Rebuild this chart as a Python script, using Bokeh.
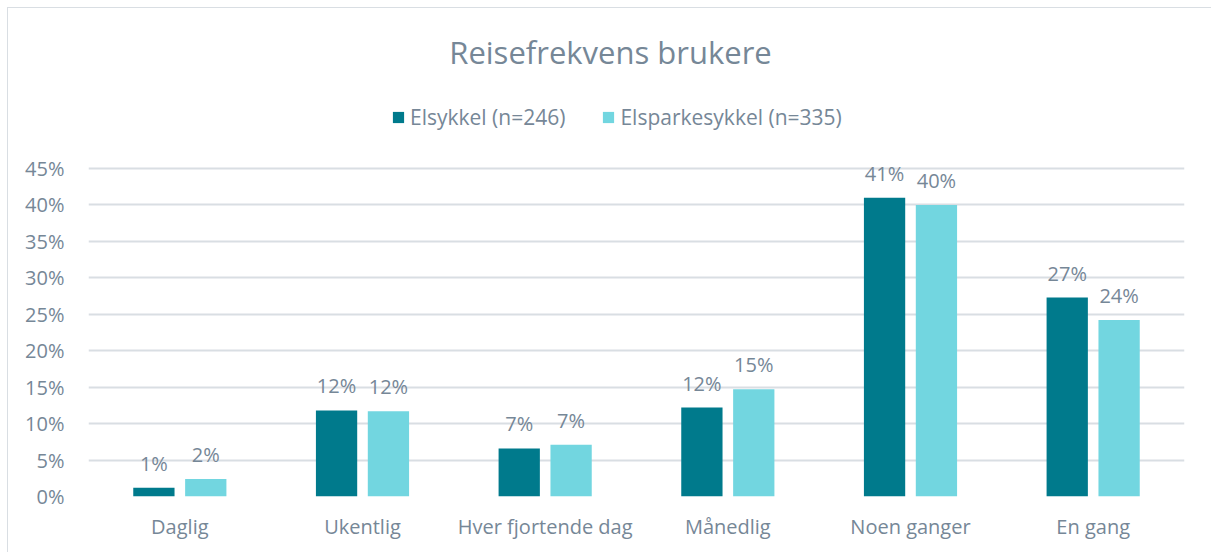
from bokeh.plotting import figure
from bokeh.models import (ColumnDataSource, FactorRange, LabelSet, Label, Range1d, Legend,
                          LegendItem, FixedTicker, PrintfTickFormatter)
from bokeh.core.properties import value
from bokeh.transform import dodge
from bokeh.embed import file_html
from bokeh.resources import INLINE

categories = ["Daglig", "Ukentlig", "Hver fjortende dag", "Månedlig", "Noen ganger", "En gang"]
elsykkel = [1.2, 11.8, 6.6, 12.2, 41.0, 27.3]
elsparkesykkel = [2.4, 11.7, 7.1, 14.7, 40.0, 24.2]
series_names = ["Elsykkel (n=246)", "Elsparkesykkel (n=335)"]
title_text = "Reisefrekvens brukere"
y_ticks = [0, 5, 10, 15, 20, 25, 30, 35, 40, 45]

C1 = "#007A8C"
C2 = "#72D6E0"
TXT = "#768797"
GRID = "#D9DEE3"
FONT = "Open Sans"

W, H = 1204, 545
FRAME_BOTTOM = 488          # px from figure top
AXIS_TOP_PX = 160           # px from figure top where 45% sits
Y_TOP = 45 * FRAME_BOTTOM / (FRAME_BOTTOM - AXIS_TOP_PX)   # frame extends up to hold title/legend

src = ColumnDataSource(dict(
    cat=categories,
    a=elsykkel,
    b=elsparkesykkel,
    la=[f"{round(v)}%" for v in elsykkel],
    lb=[f"{round(v)}%" for v in elsparkesykkel],
))

p = figure(x_range=FactorRange(*categories, range_padding=0), y_range=Range1d(0, Y_TOP),
           width=W, height=H, output_backend="svg", toolbar_location=None, title=None,
           min_border_left=80, min_border_right=W - 1176, min_border_top=0,
           min_border_bottom=H - FRAME_BOTTOM)

r1 = p.vbar(x=dodge("cat", -0.142, range=p.x_range), top="a", width=0.226, source=src,
            fill_color=C1, line_color=None)
r2 = p.vbar(x=dodge("cat", 0.142, range=p.x_range), top="b", width=0.226, source=src,
            fill_color=C2, line_color=None)

for col, y, off in (("la", "a", -0.142), ("lb", "b", 0.142)):
    p.add_layout(LabelSet(x=dodge("cat", off, range=p.x_range), y=y, text=col, source=src,
                          text_align="center", text_baseline="alphabetic", y_offset=17,
                          text_font=value(FONT), text_font_size="20px", text_color=TXT))

p.add_layout(Label(x=522, y=445, x_units="screen", y_units="screen", text=title_text,
                   text_align="center", text_baseline="alphabetic",
                   text_font=FONT, text_font_size="31px", text_color=TXT))

legend = Legend(items=[LegendItem(label=series_names[0], renderers=[r1]),
                       LegendItem(label=series_names[1], renderers=[r2])],
                orientation="horizontal", location=(303, 365),
                label_text_font=FONT, label_text_font_size="21px", label_text_color=TXT,
                glyph_width=14, glyph_height=14, label_standoff=5, spacing=36,
                label_height=14, border_line_color=None, background_fill_alpha=0,
                padding=0, margin=0)
p.add_layout(legend, "center")

p.xgrid.grid_line_color = None
p.ygrid.grid_line_color = GRID
p.ygrid.grid_line_width = 2
p.yaxis.ticker = FixedTicker(ticks=y_ticks)
p.yaxis.formatter = PrintfTickFormatter(format="%d%%")
for ax in (p.xaxis, p.yaxis):
    ax.axis_line_color = None
    ax.major_tick_line_color = None
    ax.minor_tick_line_color = None
    ax.major_label_text_font = FONT
    ax.major_label_text_font_size = "20px"
    ax.major_label_text_color = TXT
p.yaxis.major_label_standoff = 18
p.xaxis.major_label_standoff = 10
p.outline_line_color = None
p.styles = {"border-left": "1px solid #D9DEE3", "border-top": "1px solid #D9DEE3",
            "margin-left": "7px", "margin-top": "7px"}

open("out.html", "w").write(file_html(p, INLINE))
